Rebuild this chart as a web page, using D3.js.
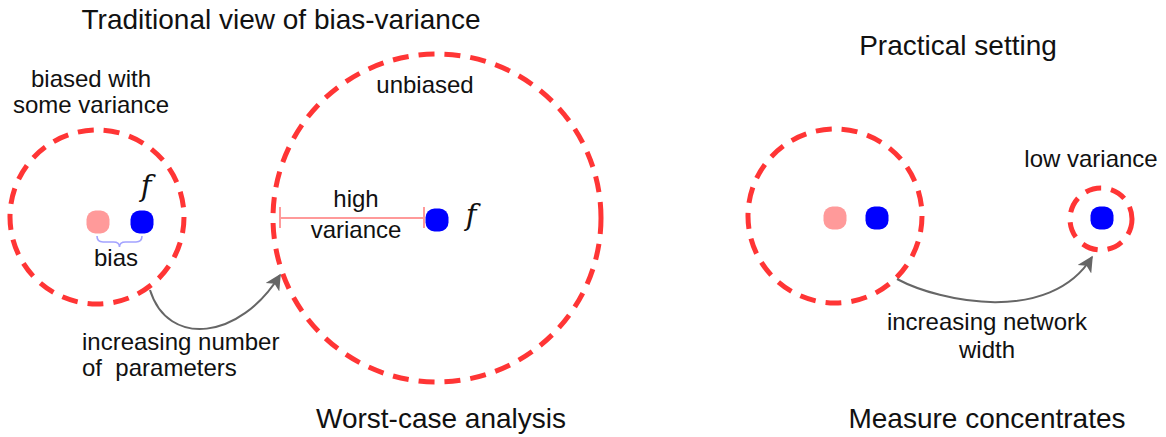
<!DOCTYPE html>
<html>
<head>
<meta charset="utf-8">
<script src="https://cdn.jsdelivr.net/npm/d3@7/dist/d3.min.js"></script>
<style>
  html, body { margin: 0; padding: 0; background: #fff; }
  svg { display: block; }
  text { font-family: "Liberation Sans", Arial, Helvetica, sans-serif; fill: #111; }
  text.f { font-family: "DejaVu Serif", serif; font-style: italic; }
</style>
</head>
<body>
<script>
// regions (dashed circles): centre and radius, diagram units
var regionNames = ["biased", "unbiased", "practical", "concentrated"];
var regionX = [97, 437, 835, 1101];
var regionY = [217, 218, 216, 219];
var regionR = [87, 164, 87, 31];

// dots: estimate (pink) and true function f (blue)
var dotKinds = ["estimate", "target", "target", "estimate", "target", "target"];
var dotX = [98, 142, 437, 835, 877, 1102];
var dotY = [222, 222, 220, 218, 218, 218];

// the f labels
var fX = [146, 471];
var fY = [196, 225];

// curved arrows: start, two control points, tip
var arrowFrom = [[150, 290], [897, 279]];
var arrowC1 = [[168, 348], [940, 302]];
var arrowC2 = [[240, 340], [1050, 325]];
var arrowTo = [[280, 275], [1092, 257]];

// high variance bar and bias brace
var barFrom = [280, 218];
var barTo = [424, 218];
var braceFrom = [97, 236];
var braceTo = [142, 236];

// text
var titleTexts = ["Traditional view of bias-variance", "Practical setting", "Worst-case analysis", "Measure concentrates"];
var titleX = [281, 958, 441, 987];
var titleY = [29, 55, 428, 428];

var noteTexts = ["biased with", "some variance", "bias", "unbiased", "high", "variance",
                 "low variance", "increasing network", "width"];
var noteX = [91, 91, 116, 425, 356, 356, 1091, 987, 987];
var noteY = [87, 113, 266, 93, 207, 238, 167, 330, 358];

var leftNotes = ["increasing number", "of  parameters"];
var leftNoteX = [82, 82];
var leftNoteY = [350, 376];

var width = 1166, height = 437;

var x = d3.scaleLinear().domain([0, 1166]).range([0, width]);
var y = d3.scaleLinear().domain([0, 437]).range([0, height]);
var rs = d3.scaleLinear().domain([0, 1166]).range([0, width]);
var dotColor = d3.scaleOrdinal().domain(["estimate", "target"]).range(["#ff9a9a", "#0000ff"]);

var svg = d3.select("body").append("svg")
    .attr("width", width)
    .attr("height", height);

var defs = svg.append("defs");
defs.append("marker")
    .attr("id", "head")
    .attr("viewBox", "0 0 10 10")
    .attr("refX", 9)
    .attr("refY", 5)
    .attr("markerUnits", "userSpaceOnUse")
    .attr("markerWidth", 18)
    .attr("markerHeight", 16)
    .attr("orient", "auto")
    .append("path")
    .attr("d", "M0,0 L10,5 L0,10 L2.5,5 z")
    .attr("fill", "#666");

// dashed circles
svg.selectAll("circle.region")
    .data(regionNames)
    .enter().append("circle")
    .attr("class", "region")
    .attr("cx", function (d, i) { return x(regionX[i]); })
    .attr("cy", function (d, i) { return y(regionY[i]); })
    .attr("r", function (d, i) { return rs(regionR[i]); })
    .attr("fill", "none")
    .attr("stroke", "#ff3535")
    .attr("stroke-width", 5)
    .attr("stroke-dasharray", "16,10");

// high variance bar
var bar = svg.append("g").attr("stroke", "#ff9a9a").attr("stroke-width", 2);
bar.append("line")
    .attr("x1", x(barFrom[0])).attr("y1", y(barFrom[1]))
    .attr("x2", x(barTo[0])).attr("y2", y(barTo[1]));
[barFrom, barTo].forEach(function (p) {
    bar.append("line")
        .attr("x1", x(p[0])).attr("x2", x(p[0]))
        .attr("y1", y(p[1] - 11)).attr("y2", y(p[1] + 10));
});

// bias brace
var bx0 = x(braceFrom[0]), bx1 = x(braceTo[0]), by = y(braceFrom[1]);
var bm = (bx0 + bx1) / 2;
var brace = d3.path();
brace.moveTo(bx0, by);
brace.quadraticCurveTo(bx0, by + 6, bx0 + 6, by + 6);
brace.lineTo(bm - 6, by + 6);
brace.quadraticCurveTo(bm, by + 6, bm, by + 11);
brace.quadraticCurveTo(bm, by + 6, bm + 6, by + 6);
brace.lineTo(bx1 - 6, by + 6);
brace.quadraticCurveTo(bx1, by + 6, bx1, by);
svg.append("path")
    .attr("d", brace.toString())
    .attr("fill", "none")
    .attr("stroke", "#a3a3ff")
    .attr("stroke-width", 1.6);

// dots
svg.selectAll("rect.dot")
    .data(dotKinds)
    .enter().append("rect")
    .attr("class", "dot")
    .attr("x", function (d, i) { return x(dotX[i]) - 11.5; })
    .attr("y", function (d, i) { return y(dotY[i]) - 11.5; })
    .attr("width", 23)
    .attr("height", 23)
    .attr("rx", 9)
    .attr("fill", function (d) { return dotColor(d); });

// arrows
svg.selectAll("path.arrow")
    .data(arrowFrom)
    .enter().append("path")
    .attr("class", "arrow")
    .attr("d", function (d, i) {
        var p = d3.path();
        p.moveTo(x(d[0]), y(d[1]));
        p.bezierCurveTo(x(arrowC1[i][0]), y(arrowC1[i][1]),
            x(arrowC2[i][0]), y(arrowC2[i][1]),
            x(arrowTo[i][0]), y(arrowTo[i][1]));
        return p.toString();
    })
    .attr("fill", "none")
    .attr("stroke", "#666")
    .attr("stroke-width", 2)
    .attr("marker-end", "url(#head)");

// titles
svg.selectAll("text.title")
    .data(titleTexts)
    .enter().append("text")
    .attr("class", "title")
    .attr("x", function (d, i) { return x(titleX[i]); })
    .attr("y", function (d, i) { return y(titleY[i]); })
    .attr("text-anchor", "middle")
    .style("font-size", "28px")
    .text(function (d) { return d; });

// notes
svg.selectAll("text.note")
    .data(noteTexts)
    .enter().append("text")
    .attr("class", "note")
    .attr("x", function (d, i) { return x(noteX[i]); })
    .attr("y", function (d, i) { return y(noteY[i]); })
    .attr("text-anchor", "middle")
    .style("font-size", "24px")
    .text(function (d) { return d; });

svg.selectAll("text.leftnote")
    .data(leftNotes)
    .enter().append("text")
    .attr("class", "leftnote")
    .attr("x", function (d, i) { return x(leftNoteX[i]); })
    .attr("y", function (d, i) { return y(leftNoteY[i]); })
    .style("font-size", "24px")
    .style("white-space", "pre")
    .text(function (d) { return d; });

// f labels
svg.selectAll("text.f")
    .data(fX)
    .enter().append("text")
    .attr("class", "f")
    .attr("x", function (d) { return x(d); })
    .attr("y", function (d, i) { return y(fY[i]); })
    .attr("text-anchor", "middle")
    .style("font-size", "29px")
    .text("f");
</script>
</body>
</html>
